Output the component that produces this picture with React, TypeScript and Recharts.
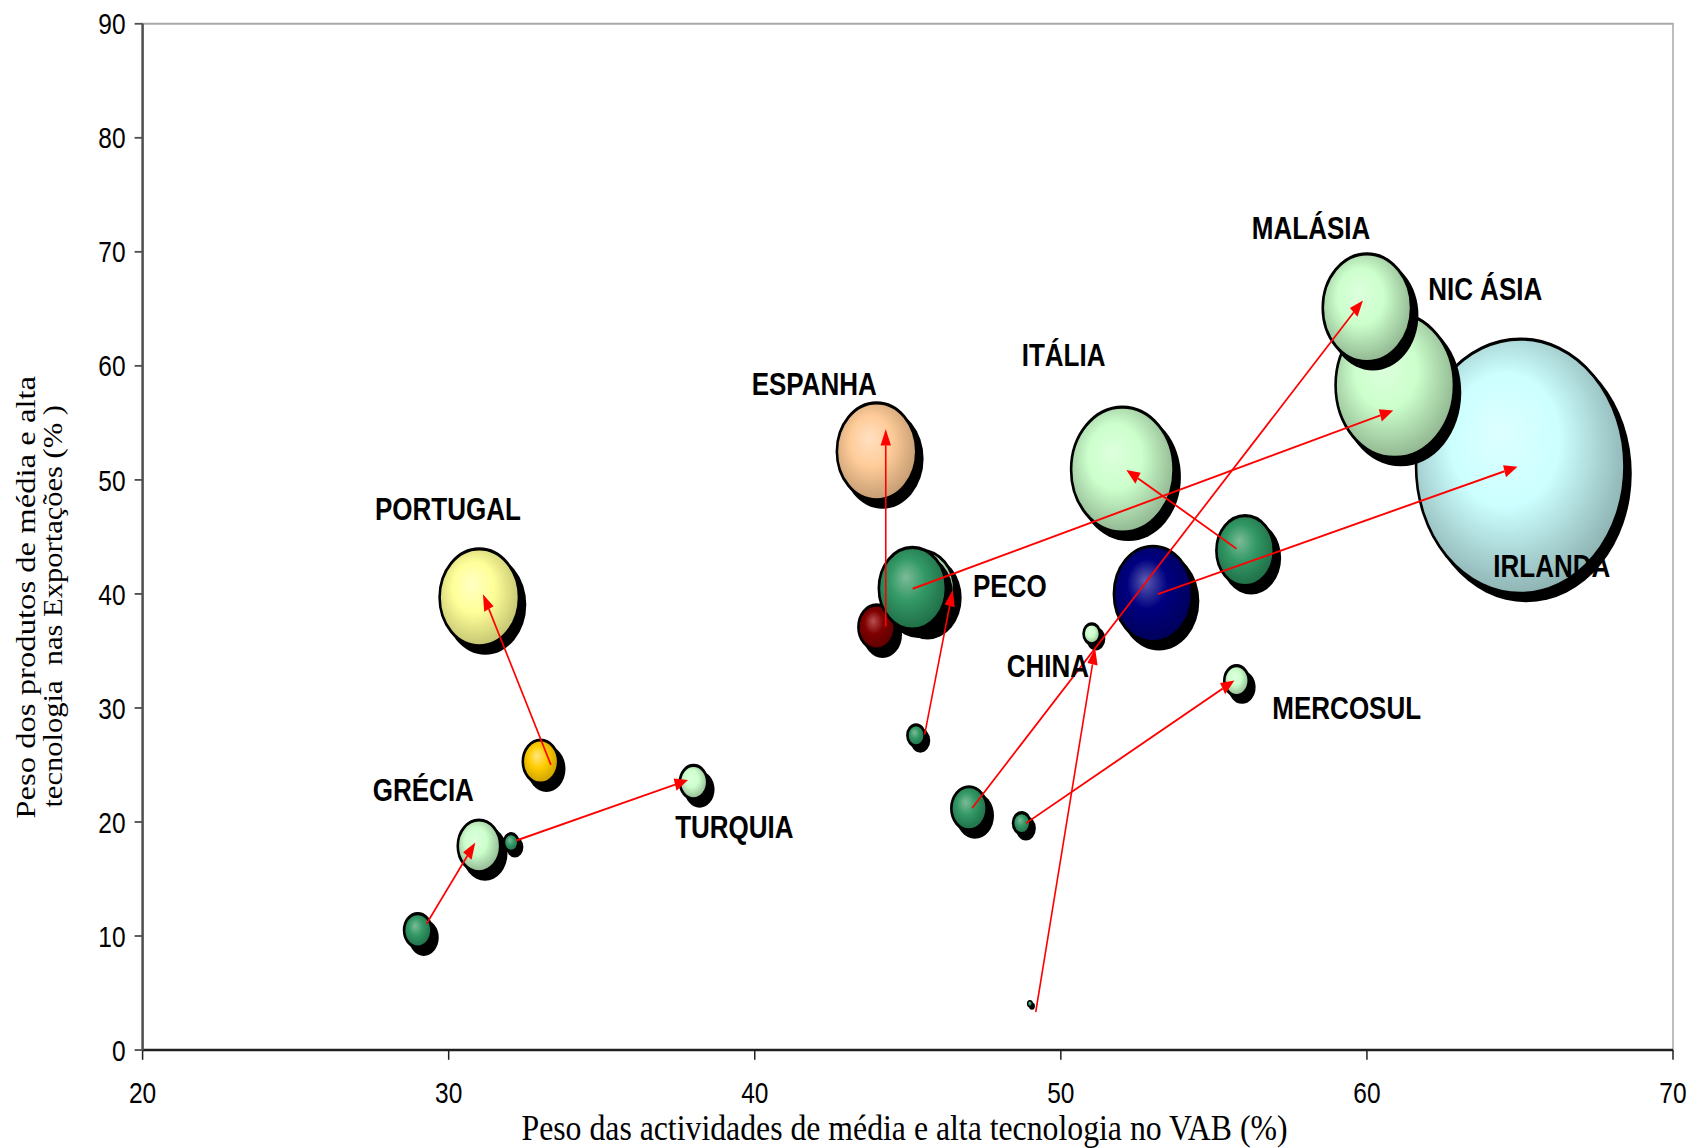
import React from 'react';
import { ScatterChart, Scatter, XAxis, YAxis, ZAxis, ReferenceLine, ReferenceArea } from 'recharts';

// ---------- data ----------
const regions = ['PORTUGAL', 'ESPANHA', 'GRÉCIA', 'TURQUIA', 'ITÁLIA', 'IRLANDA', 'PECO', 'CHINA', 'MERCOSUL', 'MALÁSIA', 'NIC ÁSIA'];

// initial year
const startX = [33.0, 43.98, 28.99, 32.04, 56.02, 53.01, 45.27, 48.99, 48.72, 47.0, 45.15];
const startY = [25.3, 37.1, 10.5, 18.2, 43.8, 40.0, 27.6, 4.07, 19.9, 21.2, 40.5];
const startSize = [12.5, 13.2, 7.5, 2.1, 33, 61, 3.0, 0.22, 3.0, 12.5, 45];

// final year
const endX = [31.0, 43.98, 30.99, 38.0, 52.01, 65.01, 45.45, 51.01, 55.74, 60.0, 60.91];
const endY = [39.7, 52.5, 17.9, 23.5, 50.9, 51.2, 40.3, 36.5, 32.4, 65.1, 58.3];
const endSize = [63, 63, 18, 7.5, 105, 434, 43, 2.7, 6, 78, 140];

// hand-drawn arrows (from -> to)
const arrowFromX = [33.34, 44.28, 29.28, 32.21, 55.74, 53.17, 45.55, 49.18, 48.86, 47.10, 45.16];
const arrowFromY = [25.01, 37.14, 11.08, 18.38, 43.96, 39.98, 27.66, 3.34, 19.89, 21.22, 40.45];
const arrowToX = [31.12, 44.28, 30.87, 37.82, 52.14, 64.92, 46.47, 51.12, 55.67, 59.87, 60.86];
const arrowToY = [39.98, 54.47, 18.19, 23.68, 50.87, 51.16, 40.36, 35.24, 32.40, 65.74, 56.08];

// label anchors (left baseline)
const labelX = [27.59, 39.90, 27.52, 37.40, 48.72, 64.13, 47.13, 48.23, 56.91, 56.24, 62.0];
const labelY = [46.51, 57.41, 21.85, 18.6, 59.97, 41.44, 39.74, 32.73, 29.0, 71.14, 65.77];

const xTicks = [20, 30, 40, 50, 60, 70];
const yTicks = [0, 10, 20, 30, 40, 50, 60, 70, 80, 90];

const startColor = ['gold', 'darkred', 'seagreen', 'seagreen', 'seagreen', 'navy', 'seagreen', 'seagreen', 'seagreen', 'seagreen', 'seagreen'];
const endColor = ['yellow', 'peach', 'lightgreen', 'lightgreen', 'lightgreen', 'cyan', 'lightgreen', 'lightgreen', 'lightgreen', 'lightgreen', 'lightgreen'];

// ---------- styles ----------
const palette: Record<string, { hi: string; base: string; lo: string }> = {
  gold: { hi: '#FFE680', base: '#FFCC00', lo: '#C89E00' },
  yellow: { hi: '#FFFFC4', base: '#FFFF99', lo: '#C2C270' },
  darkred: { hi: '#B85050', base: '#800000', lo: '#5A0000' },
  peach: { hi: '#FFE0C2', base: '#FFCC99', lo: '#C29A70' },
  navy: { hi: '#5C5CB0', base: '#000080', lo: '#000058' },
  cyan: { hi: '#DDFFFF', base: '#CCFFFF', lo: '#8CB0B0' },
  seagreen: { hi: '#7DBB98', base: '#339966', lo: '#1E6B45' },
  lightgreen: { hi: '#DDFFDD', base: '#CCFFCC', lo: '#8FB48F' },
};

const W = 1693;
const H = 941;
const S = 1148 / H;
const SANS = "'Liberation Sans', Arial, sans-serif";
const SERIF = "'Liberation Serif', 'Times New Roman', serif";

// build bubble list in drawing order
const special = [0, 1, 5];
const others = regions.map((_, i) => i).filter((i) => !special.includes(i));
const bubbles: any[] = [];
special.forEach((i) => {
  bubbles.push({ x: startX[i], y: startY[i], z: startSize[i], color: startColor[i] });
  bubbles.push({ x: endX[i], y: endY[i], z: endSize[i], color: endColor[i] });
});
[...others].sort((a, b) => endSize[b] - endSize[a]).forEach((i) => {
  bubbles.push({ x: endX[i], y: endY[i], z: endSize[i], color: endColor[i] });
});
[...others].sort((a, b) => startSize[b] - startSize[a]).forEach((i) => {
  bubbles.push({ x: startX[i], y: startY[i], z: startSize[i], color: startColor[i] });
});

const labels = regions.map((name, i) => ({ x: labelX[i], y: labelY[i], name }));

const Bubble = (props: any) => {
  const { cx, cy, width, payload } = props;
  if (cx == null || cy == null || !payload) return null;
  const r = Math.max((width || 0) / 2, 1.2);
  const st = palette[payload.color];
  const sw = Math.min(2.6, r * 0.55);
  const off = Math.min(6, 1.2 + r * 0.35);
  const gid = `grad-${payload.color}`;
  return (
    <g>
      <defs>
        <radialGradient id={gid} cx="0.46" cy="0.44" r="0.58" fx="0.4" fy="0.36">
          <stop offset="0" stopColor={st.hi} />
          <stop offset="0.45" stopColor={st.base} />
          <stop offset="1" stopColor={st.lo} />
        </radialGradient>
      </defs>
      <circle cx={cx + off} cy={cy + off} r={r + sw / 2} fill="#000" />
      <circle cx={cx} cy={cy} r={r} fill={`url(#${gid})`} stroke="#000" strokeWidth={sw} />
    </g>
  );
};

const LabelShape = (props: any) => {
  const { cx, cy, payload } = props;
  if (cx == null || cy == null || !payload) return null;
  return (
    <text x={cx} y={cy} fontFamily={SANS} fontWeight="bold" fontSize={26} fill="#000">
      {payload.name}
    </text>
  );
};

const Arrow = (props: any) => {
  const { x1, y1, x2, y2 } = props;
  if ([x1, y1, x2, y2].some((v) => v == null || isNaN(v))) return null;
  const dx = x2 - x1;
  const dy = y2 - y1;
  const len = Math.hypot(dx, dy) || 1;
  const ux = dx / len;
  const uy = dy / len;
  const L = 13.5;
  const Wd = 5.2;
  const bx = x2 - ux * L;
  const by = y2 - uy * L;
  const pts = `${x2},${y2} ${bx - uy * Wd},${by + ux * Wd} ${bx + uy * Wd},${by - ux * Wd}`;
  return (
    <g>
      <line x1={x1} y1={y1} x2={bx} y2={by} stroke="#FF0000" strokeWidth={1.6} />
      <polygon points={pts} fill="#FF0000" />
    </g>
  );
};

export default function App() {
  return (
    <div style={{ position: 'absolute', left: 0, top: 0, width: W, height: 1148, overflow: 'hidden', background: '#fff' }}>
      <div style={{ position: 'relative', width: W, height: H, transform: `scaleY(${S})`, transformOrigin: '0 0' }}>
        <ScatterChart width={W} height={H} margin={{ top: 19.5, right: 20, bottom: 0, left: 0 }}>
          <XAxis
            type="number"
            dataKey="x"
            domain={[20, 70]}
            ticks={xTicks}
            interval={0}
            height={80.3}
            tickSize={8}
            tickMargin={18}
            axisLine={{ stroke: '#202020', strokeWidth: 2 }}
            tickLine={{ stroke: '#202020', strokeWidth: 1.5 }}
            tick={{ fill: '#000', fontSize: 24.5, fontFamily: SANS }}
            allowDataOverflow
          />
          <YAxis
            type="number"
            dataKey="y"
            domain={[0, 90]}
            ticks={yTicks}
            interval={0}
            width={142.6}
            tickSize={8}
            tickMargin={9}
            axisLine={{ stroke: '#505050', strokeWidth: 2.5 }}
            tickLine={{ stroke: '#505050', strokeWidth: 1.5 }}
            tick={{ fill: '#000', fontSize: 24.5, fontFamily: SANS }}
            allowDataOverflow
          />
          <ZAxis type="number" dataKey="z" domain={[0, 434]} range={[0, 34110]} />
          <ReferenceArea x1={20} x2={70} y1={0} y2={90} fill="none" stroke="#A8A8A8" strokeWidth={1.5} ifOverflow="visible" />
          <Scatter data={bubbles} shape={Bubble} isAnimationActive={false} zIndex={600} />
          {regions.map((r, i) => (
            <ReferenceLine
              key={r}
              segment={[
                { x: arrowFromX[i], y: arrowFromY[i] },
                { x: arrowToX[i], y: arrowToY[i] },
              ]}
              shape={Arrow}
              ifOverflow="visible"
              zIndex={1500}
            />
          ))}
          <Scatter data={labels} shape={LabelShape} isAnimationActive={false} zIndex={1600} />
        </ScatterChart>
        <svg width={W} height={H} style={{ position: 'absolute', left: 0, top: 0, pointerEvents: 'none' }}>
          <text
            transform="translate(35, 489.6) rotate(-90)"
            textAnchor="middle"
            fontFamily={SERIF}
            fontSize={27}
            textLength={363}
            lengthAdjust="spacingAndGlyphs"
            fill="#000"
          >
            Peso dos produtos de média e alta
          </text>
          <text
            transform="translate(61.5, 497) rotate(-90)"
            textAnchor="middle"
            fontFamily={SERIF}
            fontSize={27}
            textLength={330}
            lengthAdjust="spacingAndGlyphs"
            fill="#000"
            style={{ whiteSpace: 'pre' }}
          >
            {'tecnologia  nas Exportações (% )'}
          </text>
          <text
            x={904.5}
            y={934.5}
            textAnchor="middle"
            fontFamily={SERIF}
            fontSize={29}
            textLength={766}
            lengthAdjust="spacingAndGlyphs"
            fill="#000"
          >
            Peso das actividades de média e alta tecnologia no VAB (%)
          </text>
        </svg>
      </div>
    </div>
  );
}
